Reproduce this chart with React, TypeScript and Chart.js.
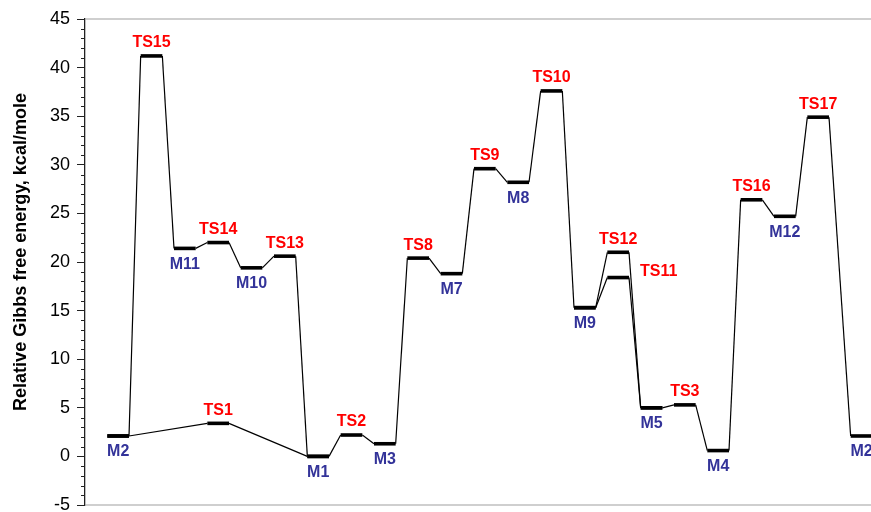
import { useEffect, useRef } from 'react';
import { Chart, registerables } from 'chart.js';

Chart.register(...registerables);

// Main pathway (reaction coordinate slot, energy in kcal/mole)
const mainNames = ['M2', 'TS15', 'M11', 'TS14', 'M10', 'TS13', 'M1', 'TS2', 'M3', 'TS8', 'M7', 'TS9', 'M8', 'TS10', 'M9', 'TS12', 'M5', 'TS3', 'M4', 'TS16', 'M12', 'TS17', 'M2'];
const mainSlots = [0, 1, 2, 3, 4, 5, 6, 7, 8, 9, 10, 11, 12, 13, 14, 15, 16, 17, 18, 19, 20, 21, 22.3];
const mainEnergies = [2.1, 41.2, 21.4, 22.0, 19.4, 20.6, 0.0, 2.2, 1.3, 20.4, 18.8, 29.6, 28.2, 37.6, 15.3, 21.0, 5.0, 5.3, 0.6, 26.4, 24.7, 34.9, 2.1];

// Branch via TS1
const branch1Names = ['M2', 'TS1', 'M1'];
const branch1Slots = [0, 3, 6];
const branch1Energies = [2.1, 3.4, 0.0];

// Branch via TS11
const branch2Names = ['M9', 'TS11', 'M5'];
const branch2Slots = [14, 15, 16];
const branch2Energies = [15.3, 18.4, 5.0];

const yTicks = [-5, 0, 5, 10, 15, 20, 25, 30, 35, 40, 45];
const yTitle = 'Relative Gibbs free energy, kcal/mole';

const LEVEL_W = 0.65;
const FONT = "'Liberation Sans', Arial, Helvetica, sans-serif";
const TS_COLOR = '#ff0000';
const M_COLOR = '#333399';

function buildPoints(slots: number[], energies: number[]) {
  const pts: { x: number; y: number }[] = [];
  slots.forEach((s, i) => {
    pts.push({ x: s, y: energies[i] });
    pts.push({ x: s + LEVEL_W, y: energies[i] });
  });
  return pts;
}

const labelledLevels = () => {
  const out: { name: string; slot: number; e: number; side?: boolean }[] = [];
  mainNames.forEach((n, i) => out.push({ name: n, slot: mainSlots[i], e: mainEnergies[i] }));
  out.push({ name: branch1Names[1], slot: branch1Slots[1], e: branch1Energies[1] });
  out.push({ name: branch2Names[1], slot: branch2Slots[1], e: branch2Energies[1], side: true });
  return out;
};

const decorPlugin = {
  id: 'decor',
  afterDraw(chart: any) {
    const { ctx, chartArea } = chart;
    const y = chart.scales.y;
    const x = chart.scales.x;
    ctx.save();
    // frame top & bottom
    ctx.strokeStyle = '#a0a0a0';
    ctx.lineWidth = 1.2;
    ctx.beginPath();
    ctx.moveTo(chartArea.left, chartArea.top);
    ctx.lineTo(chartArea.right, chartArea.top);
    ctx.moveTo(chartArea.left, chartArea.bottom);
    ctx.lineTo(chartArea.right, chartArea.bottom);
    ctx.stroke();
    // minor ticks
    ctx.strokeStyle = '#222';
    ctx.lineWidth = 1;
    ctx.beginPath();
    for (let v = yTicks[0]; v <= yTicks[yTicks.length - 1]; v++) {
      if (v % 5 === 0) continue;
      const py = Math.round(y.getPixelForValue(v)) + 0.5;
      ctx.moveTo(chartArea.left - 4, py);
      ctx.lineTo(chartArea.left, py);
    }
    ctx.stroke();
    // axis title
    ctx.save();
    ctx.translate(21, 252);
    ctx.rotate(-Math.PI / 2);
    ctx.font = `bold 18px ${FONT}`;
    ctx.fillStyle = '#000';
    ctx.textAlign = 'center';
    ctx.textBaseline = 'middle';
    ctx.fillText(yTitle, 0, 0);
    ctx.restore();
    // labels
    ctx.font = `bold 16px ${FONT}`;
    ctx.textBaseline = 'middle';
    labelledLevels().forEach((l) => {
      const isTS = l.name.startsWith('TS');
      ctx.fillStyle = isTS ? TS_COLOR : M_COLOR;
      const py = y.getPixelForValue(l.e);
      if (l.side) {
        ctx.textAlign = 'left';
        ctx.fillText(l.name, x.getPixelForValue(l.slot + LEVEL_W) + 11, py - 6);
      } else {
        ctx.textAlign = 'center';
        const px = x.getPixelForValue(l.slot + LEVEL_W / 2);
        ctx.fillText(l.name, px, isTS ? py - 13 : py + 16);
      }
    });
    ctx.restore();
  },
};

const segStyle = {
  borderWidth: (c: any) => (c.p0DataIndex % 2 === 0 ? 3.6 : 1.2),
};

export default function App() {
  const ref = useRef<HTMLCanvasElement | null>(null);
  useEffect(() => {
    if (!ref.current) return;
    const mk = (slots: number[], energies: number[]) => ({
      data: buildPoints(slots, energies),
      borderColor: '#000',
      borderWidth: 1.2,
      pointRadius: 0,
      tension: 0,
      fill: false,
      borderCapStyle: 'butt',
      borderJoinStyle: 'miter',
      segment: segStyle,
    });
    const chart = new Chart(ref.current, {
      type: 'line',
      data: {
        datasets: [
          mk(branch1Slots, branch1Energies),
          mk(branch2Slots, branch2Energies),
          mk(mainSlots, mainEnergies),
        ] as any,
      },
      options: {
        animation: false,
        responsive: false,
        layout: { padding: { top: 19, bottom: 7, left: 0, right: 0 } },
        plugins: { legend: { display: false }, tooltip: { enabled: false } },
        scales: {
          x: {
            type: 'linear',
            display: false,
            min: -0.67,
            max: 22.91,
          },
          y: {
            min: -5,
            max: 45,
            afterBuildTicks: (scale: any) => {
              scale.ticks = yTicks.map((v) => ({ value: v }));
            },
            afterFit: (scale: any) => {
              scale.width = 85;
              scale.paddingTop = 0;
              scale.paddingBottom = 0;
            },
            ticks: {
              font: { family: FONT, size: 18 },
              color: '#000',
              padding: 7,
            },
            grid: {
              drawOnChartArea: false,
              drawTicks: true,
              tickLength: 8,
              color: '#222',
              lineWidth: 1,
            },
            border: { display: true, color: '#222', width: 1.3 },
            title: { display: false },
          },
        },
      },
      plugins: [decorPlugin],
    } as any);
    return () => chart.destroy();
  }, []);
  return (
    <div style={{ position: 'absolute', left: 0, top: 0, width: 871, height: 512 }}>
      <canvas ref={ref} width={871} height={512} style={{ display: 'block' }} />
    </div>
  );
}
